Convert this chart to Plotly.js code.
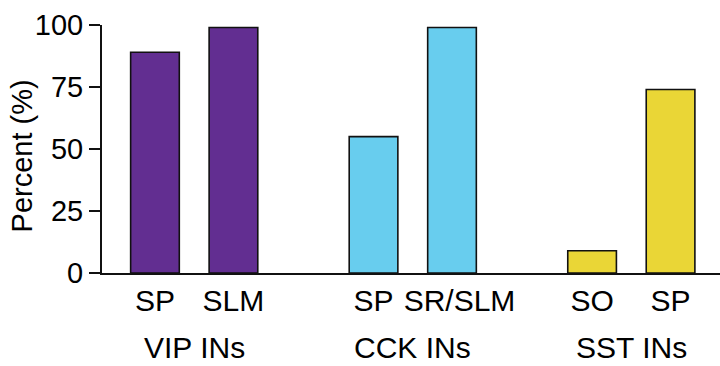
<!DOCTYPE html>
<html>
<head>
<meta charset="utf-8">
<script src="https://cdn.plot.ly/plotly-3.0.1.min.js"></script>
<style>html,body{margin:0;padding:0;background:#fff;}#chart{width:720px;height:366px;}</style>
</head>
<body>
<div id="chart"></div>
<script>
// Data
const groups = ["VIP INs", "CCK INs", "SST INs"];
const categories = [["SP", "SLM"], ["SP", "SR/SLM"], ["SO", "SP"]];
const values = [[89, 99], [55, 99], [9, 74]];
const colors = ["#622E91", "#68CDEE", "#EAD636"];
const yTicks = [0, 25, 50, 75, 100];
const yTitle = "Percent (%)";

const groupStep = 2.785;
const traces = [];
const tickvals = [], ticktext = [];
const fam = "Liberation Sans, Arial, sans-serif";
const yFont = { family: fam, size: 29, color: "#000" };
const xFont = { family: fam, size: 30, color: "#000" };
const annotations = [];
groups.forEach((g, gi) => {
  const xs = categories[gi].map((c, i) => gi * groupStep + i);
  xs.forEach((x, i) => {
    tickvals.push(x);
    const lbl = categories[gi][i];
    // long labels are nudged right (as in the original) to keep clear of their neighbour
    ticktext.push(lbl.length > 4 ? "\u2002" + lbl : lbl);
  });
  traces.push({
    type: "bar",
    x: xs,
    y: values[gi],
    width: 0.62,
    marker: { color: colors[gi], line: { color: "#111", width: 1.6 } },
    hoverinfo: "skip",
    showlegend: false
  });
  annotations.push({
    text: g, x: (xs[0] + xs[xs.length - 1]) / 2, xref: "x", y: -0.302, yref: "paper",
    yanchor: "middle", xanchor: "center", showarrow: false, font: xFont
  });
});
annotations.push({
  text: yTitle, textangle: -90, xref: "paper", x: 0, xshift: -80, xanchor: "center",
  yref: "paper", y: 0.47, yanchor: "middle", showarrow: false, font: yFont
});

Plotly.newPlot("chart", traces, {
  width: 720, height: 366,
  margin: { l: 102, r: 0, t: 25, b: 93 },
  paper_bgcolor: "#fff", plot_bgcolor: "#fff",
  font: yFont,
  bargap: 0,
  xaxis: {
    range: [-0.675, 7.2],
    tickvals: tickvals, ticktext: ticktext, tickangle: 0,
    showgrid: false, zeroline: false,
    showline: true, linecolor: "#111", linewidth: 2,
    ticks: "", tickfont: xFont, fixedrange: true
  },
  yaxis: {
    range: [0, 100],
    tickvals: yTicks,
    showgrid: false, zeroline: false,
    showline: true, linecolor: "#111", linewidth: 2,
    ticks: "outside", ticklen: 11, tickwidth: 2, tickcolor: "#111",
    tickfont: yFont
  },
  annotations: annotations
}, { displayModeBar: false, staticPlot: true });
</script>
</body>
</html>
